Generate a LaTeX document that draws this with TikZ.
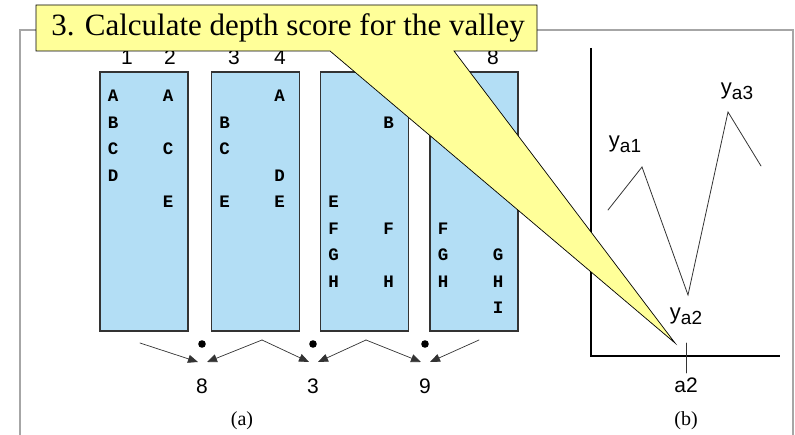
\documentclass[tikz,border=0pt]{standalone}
\usepackage{fontspec}
\setmainfont{Liberation Serif}
\setsansfont{Liberation Sans}
\setmonofont{Liberation Mono}
\usetikzlibrary{arrows.meta,calc}

\definecolor{colblue}{HTML}{B3DEF5}
\definecolor{noteyellow}{HTML}{FFFF99}

\tikzset{
  colbox/.style={draw=black!80, line width=1.1pt, fill=colblue, inner sep=0pt,
    minimum width=88pt, minimum height=259pt},
  letter/.style={font=\ttfamily\bfseries\fontsize{17.5}{17.5}\selectfont, inner sep=0pt},
  num/.style={font=\sffamily\fontsize{21}{21}\selectfont, inner sep=0pt},
  subcap/.style={font=\fontsize{20}{20}\selectfont, inner sep=0pt},
  gap/.style={-{Triangle[length=10pt,width=8pt]}, line width=0.7pt, black!80}
}

\newcommand{\ylab}[1]{\sffamily\fontsize{22}{22}\selectfont y\raisebox{-0.4ex}{\fontsize{19}{19}\selectfont #1}}

\begin{document}
\begin{tikzpicture}[x=1pt, y=-1pt, line cap=round]
  \useasboundingbox (0,0) rectangle (795,435);

  % frame
  \draw[gray!70, line width=1.8pt] (20,435) -- (20,30) -- (793,30) -- (793,435);

  % (a) columns of the text blocks
  \node[colbox] (b1) at (144,201.5) {};
  \node[colbox] (b2) at (255.5,201.5) {};
  \node[colbox] (b3) at (364.5,201.5) {};
  \node[colbox] (b4) at (474,201.5) {};

  % column numbers
  \node[num, anchor=base] (n1) at (127,65) {1};
  \node[num, anchor=base] (n2) at (170,65) {2};
  \node[num, anchor=base] (n3) at (234,65) {3};
  \node[num, anchor=base] (n4) at (280,65) {4};
  \node[num, anchor=base] (n8) at (493,65) {8};

  % letters: box/column/row/letter
  \foreach \b/\c/\r/\l in {
      1/0/0/A, 1/0/1/B, 1/0/2/C, 1/0/3/D,
      1/1/0/A, 1/1/2/C, 1/1/4/E,
      2/0/1/B, 2/0/2/C, 2/0/4/E,
      2/1/0/A, 2/1/3/D, 2/1/4/E,
      3/0/4/E, 3/0/5/F, 3/0/6/G, 3/0/7/H,
      3/1/1/B, 3/1/5/F, 3/1/7/H,
      4/0/5/F, 4/0/6/G, 4/0/7/H,
      4/1/6/G, 4/1/7/H, 4/1/8/I}
    \node[letter] (l\b\c\r) at ($(b\b.center)+({-31+55*\c},{-105.5+26.5*\r})$) {\l};

  % gaps between blocks
  \foreach \i/\x/\s in {1/202/8, 2/313/3, 3/425/9} {
    \fill (\x,344) circle (3.8pt);
    \coordinate (tipl\i) at (\x-4,362);
    \coordinate (tipr\i) at (\x+5,362);
    \node[num, anchor=base] (gs\i) at (\x,393) {\s};
  }
  \coordinate (c0) at (140,343);
  \coordinate (c1) at (262,340);
  \coordinate (c2) at (366,340);
  \coordinate (c3) at (479,340);
  \draw[gap] (c0) -- (tipl1);
  \draw[gap] (c1) -- (tipr1);
  \draw[gap] (c1) -- (tipl2);
  \draw[gap] (c2) -- (tipr2);
  \draw[gap] (c2) -- (tipl3);
  \draw[gap] (c3) -- (tipr3);

  \node[subcap] (capa) at (242,421) {(a)};

  % (b) depth of the valley
  \coordinate (ytop) at (591,48);
  \coordinate (org) at (591,356);
  \coordinate (xend) at (780,356);
  \draw[line width=2.8pt, line cap=butt] (ytop) -- (org) -- (xend);
  \draw[line width=0.8pt, black!80] (686,343) -- (686,373);
  \node[num] (a2) at (686,385) {a2};
  \node[subcap] (capb) at (686,421) {(b)};

  \coordinate (p0) at (608,210);
  \coordinate (p1) at (642,167);
  \coordinate (p2) at (688,295);
  \coordinate (p3) at (728,112);
  \coordinate (p4) at (761,166);
  \draw[line width=0.8pt, black!80] (p0) -- (p1) -- (p2) -- (p3) -- (p4);
  \node[inner sep=0pt] (ya1) at (625,144) {\ylab{a1}};
  \node[inner sep=0pt] (ya2) at (686,316) {\ylab{a2}};
  \node[inner sep=0pt] (ya3) at (737,91) {\ylab{a3}};

  % callout
  \draw[fill=noteyellow, line width=0.7pt, line join=miter]
    (36,5) -- (537,5) -- (537,51) -- (454,51) -- (675,343) -- (330,51) -- (36,51) -- cycle;
  \node[font=\fontsize{31}{31}\selectfont, inner sep=0pt] (note) at (288,28)
    {3. Calculate depth score for the valley};

\end{tikzpicture}
\end{document}
